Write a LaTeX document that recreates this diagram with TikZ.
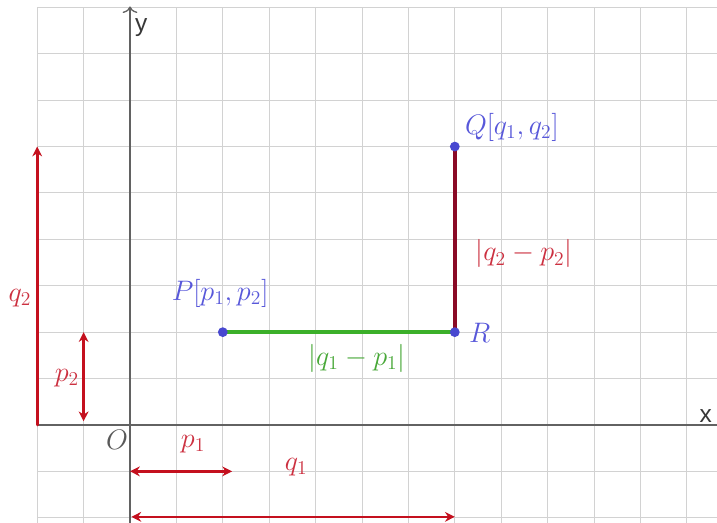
\documentclass[tikz,border=0pt]{standalone}
\usepackage{fontspec}
\newfontfamily\axisfont{Liberation Sans}
\usetikzlibrary{arrows.meta}
\definecolor{gridc}{HTML}{D2D2D2}
\definecolor{axisc}{HTML}{626262}
\definecolor{ptblue}{HTML}{4848D0}
\definecolor{lblblue}{HTML}{5858DA}
\definecolor{dimred}{HTML}{C4101E}
\definecolor{lblred}{HTML}{CC3040}
\definecolor{segred}{HTML}{8A0A26}
\definecolor{seggreen}{HTML}{3CB02A}
\definecolor{lblgreen}{HTML}{48A838}
\begin{document}
\begin{tikzpicture}[x=1cm,y=1cm,
  big/.style={font=\fontsize{16.5}{20}\selectfont},
  ptdot/.style={circle,fill=ptblue,inner sep=0pt,minimum size=6pt},
  dimarrow/.style={draw=dimred,line width=1.6pt,{Stealth[length=6pt,width=6pt]}-{Stealth[length=6pt,width=6pt]}},
  dimarrowone/.style={draw=dimred,line width=1.6pt,line cap=round,-{Stealth[length=6pt,width=6pt]}},
  bluelbl/.style={big,text=lblblue,inner sep=0pt},
  redlbl/.style={big,text=lblred,inner sep=0pt},
  greenlbl/.style={big,text=lblgreen,inner sep=0pt},
  axislbl/.style={font=\axisfont\fontsize{15}{17}\selectfont,text=black!78,inner sep=0pt}]
\useasboundingbox (-2.802,-2.112) rectangle (12.651,9.159);
\fill[white] (-2.802,-2.112) rectangle (12.651,9.159);
% grid
\draw[gridc,line width=0.6pt] (-2,-2.112) grid (12.651,9);
% axes
\draw[axisc,line width=0.8pt] (-2,0) -- (12.8,0);
\draw[axisc,line width=0.8pt,-{To[length=4pt,width=9pt]}] (0,-2.112) -- (0,9.02);
\node[axislbl] (ylab) at (0.24,8.56) {y};
\node[axislbl,anchor=west] (xlab) at (12.27,0.2) {x};
% points
\coordinate (Pc) at (2,2);
\coordinate (Rc) at (7,2);
\coordinate (Qc) at (7,6);
\draw[seggreen,line width=2.6pt] (Pc) -- (Rc);
\draw[segred,line width=2.6pt] (Rc) -- (Qc);
\node[ptdot] (P) at (Pc) {};
\node[ptdot] (R) at (Rc) {};
\node[ptdot] (Q) at (Qc) {};
\node[bluelbl] (Plab) at (1.94,2.84) {$P[p_1,p_2]$};
\node[bluelbl] (Qlab) at (8.23,6.42) {$Q[q_1,q_2]$};
\node[bluelbl] (Rlab) at (7.54,1.98) {$R$};
\node[greenlbl] (glab) at (4.89,1.44) {$|q_1-p_1|$};
\node[redlbl] (rlab) at (8.49,3.69) {$|q_2-p_2|$};
\node[big,text=black!65,inner sep=0pt] (O) at (-0.28,-0.33) {$O$};
% dimension arrows
\coordinate (p1a) at (0,-1);
\coordinate (p1b) at (2.2,-1);
\coordinate (q1a) at (0.03,-1.98);
\coordinate (q1b) at (7,-1.98);
\coordinate (q2a) at (-2,0);
\coordinate (q2b) at (-2,6);
\coordinate (p2a) at (-1,0.08);
\coordinate (p2b) at (-1,2);
\draw[dimarrow] (p1a) -- (p1b);
\draw[dimarrow] (q1a) -- (q1b);
\draw[dimarrowone] (q2a) -- (q2b);
\draw[dimarrow] (p2a) -- (p2b);
\node[redlbl] (p1lab) at (1.36,-0.41) {$p_1$};
\node[redlbl] (q1lab) at (3.58,-0.91) {$q_1$};
\node[redlbl] (q2lab) at (-2.37,2.74) {$q_2$};
\node[redlbl] (p2lab) at (-1.36,1.01) {$p_2$};
\end{tikzpicture}
\end{document}
